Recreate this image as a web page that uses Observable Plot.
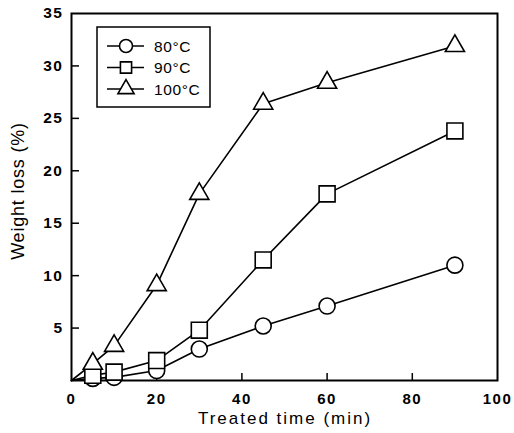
<!DOCTYPE html>
<html>
<head>
<meta charset="utf-8">
<script src="https://cdn.jsdelivr.net/npm/d3@7"></script>
<script src="https://cdn.jsdelivr.net/npm/@observablehq/plot@0.6"></script>
<style>
  html, body { margin: 0; padding: 0; background: #fff; }
  #chart { position: relative; width: 514px; height: 433px; }
  svg text { font-family: "Liberation Sans", Arial, sans-serif; }
</style>
</head>
<body>
<div id="chart"></div>
<script>
const times = [0, 5, 10, 20, 30, 45, 60, 90];
const seriesNames = ["80°C", "90°C", "100°C"];
const symbols = ["circle", "square", "triangle"];
const loss80 = [0, 0.2, 0.3, 0.95, 3.0, 5.2, 7.1, 11.0];
const loss90 = [0, 0.5, 0.8, 1.9, 4.8, 11.5, 17.8, 23.8];
const loss100 = [0, 1.6, 3.3, 9.1, 17.8, 26.4, 28.4, 31.9];
const xTicks = [0, 20, 40, 60, 80, 100];
const yTicks = [5, 10, 15, 20, 25, 30, 35];

const seriesValues = [loss80, loss90, loss100];
const data = [];
seriesValues.forEach((vals, si) => {
  vals.forEach((v, i) => data.push({series: seriesNames[si], symbol: symbols[si], t: times[i], v}));
});
const markerData = data.filter(d => d.t > 0);
const symbolR = {circle: 8, square: 9, triangle: 7.1};

const W = 514, H = 433;
const mL = 71, mR = 17, mT = 13, mB = 53;

const chart = Plot.plot({
  width: W, height: H,
  marginLeft: mL, marginRight: mR, marginTop: mT, marginBottom: mB,
  style: {fontFamily: "Liberation Sans, Arial, sans-serif", background: "#fff", color: "#000"},
  x: {domain: [0, 100], label: null},
  y: {domain: [0, 35], label: null},
  marks: [
    Plot.gridX(xTicks.slice(1, -1), {stroke: "#000", strokeOpacity: 1, strokeWidth: 1.5, insetTop: (H - mT - mB) - 7}),
    Plot.gridY(yTicks.slice(0, -1), {stroke: "#000", strokeOpacity: 1, strokeWidth: 1.5, insetRight: (W - mL - mR) - 8}),
    Plot.axisX({ticks: xTicks, tickSize: 0, tickPadding: 13, fontSize: 15, fontWeight: "bold", tickFormat: d => String(d)}),
    Plot.axisY({ticks: yTicks, tickSize: 0, tickPadding: 8, fontSize: 15.5, fontWeight: "bold", tickFormat: d => String(d)}),
    Plot.frame({stroke: "#000", strokeWidth: 2}),
    Plot.line(data, {x: "t", y: "v", z: "series", stroke: "#000", strokeWidth: 1.6}),
    ...symbols.map(s => Plot.dot(markerData.filter(d => d.symbol === s), {x: "t", y: "v", symbol: s, r: symbolR[s], fill: "#fff", stroke: "#000", strokeWidth: 1.6}))
  ]
});
document.getElementById("chart").appendChild(chart);

const svg = d3.select(chart);
svg.selectAll("g[aria-label='x-axis tick label'] text, g[aria-label='y-axis tick label'] text").attr("letter-spacing", 1.5);

// axis titles
svg.append("text")
  .attr("x", 285).attr("y", 424)
  .attr("text-anchor", "middle")
  .attr("font-size", 17).attr("letter-spacing", 2)
  .attr("font-family", "Liberation Sans, Arial, sans-serif")
  .text("Treated time (min)");
svg.append("text")
  .attr("transform", `translate(24, 191) rotate(-90)`)
  .attr("text-anchor", "middle")
  .attr("font-size", 18).attr("letter-spacing", 0.8)
  .attr("font-family", "Liberation Sans, Arial, sans-serif")
  .text("Weight loss (%)");

// legend
const lg = svg.append("g").attr("transform", "translate(97, 27)");
lg.append("rect").attr("width", 113).attr("height", 80)
  .attr("fill", "#fff").attr("stroke", "#000").attr("stroke-width", 1.5);
const symMap = {circle: d3.symbolCircle, square: d3.symbolSquare, triangle: d3.symbolTriangle};
const legendR = {circle: 6.5, square: 6.3, triangle: 6};
seriesNames.forEach((name, i) => {
  const cy = 19 + i * 21.5;
  lg.append("line").attr("x1", 10).attr("x2", 47).attr("y1", cy).attr("y2", cy)
    .attr("stroke", "#000").attr("stroke-width", 1.6);
  const r = legendR[symbols[i]];
  lg.append("path")
    .attr("d", d3.symbol(symMap[symbols[i]], Math.PI * r * r)())
    .attr("transform", `translate(29, ${cy})`)
    .attr("fill", "#fff").attr("stroke", "#000").attr("stroke-width", 1.6);
  lg.append("text").attr("x", 57).attr("y", cy + 5.5)
    .attr("text-anchor", "start")
    .attr("font-size", 15.5).attr("letter-spacing", 0.6)
    .attr("font-family", "Liberation Sans, Arial, sans-serif")
    .text(name);
});
</script>
</body>
</html>
